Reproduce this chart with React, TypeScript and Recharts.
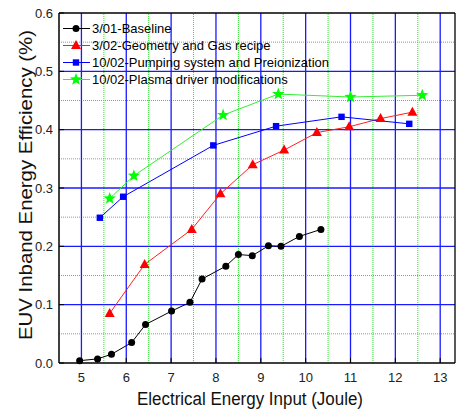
import React from 'react';
import { LineChart, Line, XAxis, YAxis, ReferenceLine, Legend } from 'recharts';

const seriesNames = [
  '3/01-Baseline',
  '3/02-Geometry and Gas recipe',
  '10/02-Pumping system and Preionization',
  '10/02-Plasma driver modifications',
];

const baselineX = [4.96, 5.36, 5.67, 6.12, 6.43, 7.01, 7.42, 7.69, 8.22, 8.5, 8.81, 9.17, 9.45, 9.86, 10.34];
const baselineY = [0.004, 0.007, 0.015, 0.035, 0.066, 0.089, 0.104, 0.144, 0.166, 0.186, 0.184, 0.201, 0.2, 0.217, 0.229];

const geometryX = [5.63, 6.41, 7.46, 8.1, 8.82, 9.52, 10.25, 10.97, 11.67, 12.38];
const geometryY = [0.085, 0.169, 0.229, 0.29, 0.34, 0.365, 0.395, 0.405, 0.419, 0.43];

const pumpingX = [5.41, 5.93, 7.94, 9.34, 10.8, 12.31];
const pumpingY = [0.249, 0.285, 0.373, 0.406, 0.422, 0.41];

const plasmaX = [5.63, 6.17, 8.16, 9.39, 11.0, 12.6];
const plasmaY = [0.282, 0.321, 0.425, 0.461, 0.456, 0.459];

const xTicks = [5, 6, 7, 8, 9, 10, 11, 12, 13];
const xMinor = [5.5, 6.5, 7.5, 8.5, 9.5, 10.5, 11.5, 12.5];
const yTicks = [0, 0.1, 0.2, 0.3, 0.4, 0.5, 0.6];
const yMajorGrid = [0.1, 0.2, 0.3, 0.4, 0.5];
const yMinor = [0.05, 0.15, 0.25, 0.35, 0.45, 0.55];

const zip = (xs: number[], ys: number[]) => xs.map((x, i) => ({ x, y: ys[i] }));
const baselineData = zip(baselineX, baselineY);
const geometryData = zip(geometryX, geometryY);
const pumpingData = zip(pumpingX, pumpingY);
const plasmaData = zip(plasmaX, plasmaY);

const X_MAX = 13.33;
const FONT = '"Liberation Sans", Arial, sans-serif';

const starPath = (cx: number, cy: number, R: number, r: number) => {
  const pts: string[] = [];
  for (let i = 0; i < 10; i++) {
    const rad = i % 2 === 0 ? R : r;
    const a = -Math.PI / 2 + (i * Math.PI) / 5;
    pts.push(`${(cx + rad * Math.cos(a)).toFixed(2)},${(cy + rad * Math.sin(a)).toFixed(2)}`);
  }
  return `M${pts.join('L')}Z`;
};

const Marker = ({ kind, cx, cy }: { kind: number; cx: number; cy: number }) => {
  if (kind === 0) return <circle cx={cx} cy={cy} r={3.5} fill="#000" />;
  if (kind === 1)
    return <path d={`M${cx},${cy - 5.5}L${cx + 5},${cy + 3.5}L${cx - 5},${cy + 3.5}Z`} fill="#ff0000" />;
  if (kind === 2) return <rect x={cx - 3.2} y={cy - 3.2} width={6.4} height={6.4} fill="#0000ff" />;
  return <path d={starPath(cx, cy, 6.5, 2.7)} fill="#00ff00" />;
};

const dotFor = (kind: number) => (props: any) => (
  <Marker key={`m-${kind}-${props.index}`} kind={kind} cx={props.cx} cy={props.cy} />
);

const lineColors = ['#000000', '#ff2020', '#0000ff', '#33ee33'];

const renderLegend = () => (
  <svg width={320} height={72} style={{ display: 'block' }}>
    {seriesNames.map((name, i) => {
      const cy = 8.5 + i * 17;
      return (
        <g key={name}>
          <line x1={3} x2={30} y1={cy} y2={cy} stroke={lineColors[i]} strokeWidth={1} />
          <Marker kind={i} cx={16} cy={cy} />
          <text x={32} y={cy + 4.5} fontSize={13} fontFamily={FONT} fill="#000">
            {name}
          </text>
        </g>
      );
    })}
  </svg>
);

export default function App() {
  return (
    <div style={{ position: 'absolute', left: 0, top: 0, width: 456, height: 410, background: '#fff' }}>
      <LineChart
        width={456}
        height={410}
        margin={{ top: 13, right: 1, left: 0, bottom: 0 }}
        style={{ fontFamily: FONT }}
      >
        <XAxis
          type="number"
          dataKey="x"
          domain={[4.5, X_MAX]}
          ticks={xTicks}
          allowDataOverflow
          height={47}
          tickSize={-5}
          tickMargin={15}
          tickLine={{ stroke: '#000' }}
          axisLine={{ stroke: '#000', strokeWidth: 1.5 }}
          tick={{ fill: '#222', fontSize: 13, fontFamily: FONT }}
          label={{
            content: () => (
              <text x={250} y={405} textAnchor="middle" fontSize={18} fontFamily={FONT} fill="#111" textLength={226} lengthAdjust="spacingAndGlyphs">
                Electrical Energy Input (Joule)
              </text>
            ),
          }}
        />
        <YAxis
          type="number"
          dataKey="y"
          domain={[0, 0.6]}
          ticks={yTicks}
          width={59}
          tickSize={-5}
          tickMargin={11}
          tickLine={{ stroke: '#000' }}
          axisLine={{ stroke: '#000', strokeWidth: 1.5 }}
          tickFormatter={(v: number) => v.toFixed(1)}
          tick={{ fill: '#222', fontSize: 13, fontFamily: FONT }}
          label={{
            content: () => (
              <text
                x={32}
                y={185}
                transform="rotate(-90 32 185)"
                textAnchor="middle"
                fontSize={18}
                fontFamily={FONT}
                fill="#111"
                textLength={310}
                lengthAdjust="spacingAndGlyphs"
              >
                EUV Inband Energy Efficiency (%)
              </text>
            ),
          }}
        />
        {xMinor.map((v) => (
          <ReferenceLine key={`xm${v}`} x={v} stroke="#33dd33" strokeDasharray="1 1" strokeWidth={1} />
        ))}
        {yMinor.map((v) => (
          <ReferenceLine key={`ym${v}`} y={v} stroke="#33dd33" strokeDasharray="1 1" strokeWidth={1} />
        ))}
        {xTicks.map((v) => (
          <ReferenceLine key={`xM${v}`} x={v} stroke="#1a1aff" strokeWidth={1.3} />
        ))}
        {yMajorGrid.map((v) => (
          <ReferenceLine key={`yM${v}`} y={v} stroke="#1a1aff" strokeWidth={1.3} />
        ))}
        <ReferenceLine y={0.6} stroke="#000" strokeWidth={1.3} />
        <ReferenceLine x={X_MAX} stroke="#000" strokeWidth={1.3} />
        <Legend
          layout="vertical"
          align="center"
          verticalAlign="middle"
          content={renderLegend}
          wrapperStyle={{ left: 60, top: 20, width: 320, height: 72 }}
        />
        <Line data={baselineData} dataKey="y" name={seriesNames[0]} stroke={lineColors[0]} strokeWidth={1} dot={dotFor(0)} isAnimationActive={false} />
        <Line data={geometryData} dataKey="y" name={seriesNames[1]} stroke={lineColors[1]} strokeWidth={1} dot={dotFor(1)} isAnimationActive={false} />
        <Line data={pumpingData} dataKey="y" name={seriesNames[2]} stroke={lineColors[2]} strokeWidth={1} dot={dotFor(2)} isAnimationActive={false} />
        <Line data={plasmaData} dataKey="y" name={seriesNames[3]} stroke={lineColors[3]} strokeWidth={1} dot={dotFor(3)} isAnimationActive={false} />
      </LineChart>
    </div>
  );
}
